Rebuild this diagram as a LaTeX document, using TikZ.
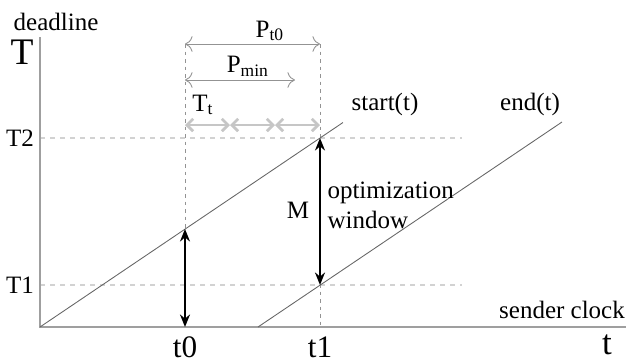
\documentclass[tikz,border=0pt]{standalone}
\usepackage{fontspec}
\setmainfont{Liberation Serif}
\usetikzlibrary{arrows.meta}

\begin{document}
\begin{tikzpicture}[
x=0.4pt, y=-0.4pt,
axis/.style={gray!75, line width=0.6pt},
guide/.style={gray!35, line width=0.8pt, dash pattern=on 2pt off 2pt},
vguide/.style={gray!85, line width=0.3pt, dash pattern=on 1.5pt off 1.5pt},
clockline/.style={gray!80!black, line width=0.35pt},
span/.style={gray!85, line width=0.35pt, {To[length=3pt]}-{To[length=3pt]}},
slot/.style={gray!45, line width=1.1pt, {Straight Barb[length=2.5pt,width=5pt]}-{Straight Barb[length=2.5pt,width=5pt]}},
gap/.style={black, line width=0.8pt, {Stealth[length=5pt,width=4pt]}-{Stealth[length=5pt,width=4pt]}},
lbl/.style={inner sep=0pt, font=\fontsize{10}{12}\selectfont}
]
\useasboundingbox (0,0) rectangle (628,362);

% ---- 关键坐标 ----
\coordinate (O)     at (40,327);
\coordinate (Ytop)  at (40,37);
\coordinate (Xend)  at (626,327);
\coordinate (T2l)   at (40,138);
\coordinate (T2r)   at (462,138);
\coordinate (T1l)   at (40,285);
\coordinate (T1r)   at (462,285);
\coordinate (t0top) at (185,44);
\coordinate (t0bot) at (185,327);
\coordinate (t1top) at (320,44);
\coordinate (t1bot) at (320,327);
\coordinate (s0)    at (185,229);
\coordinate (s1)    at (320,138);
\coordinate (sEnd)  at (343,122.5);
\coordinate (eBeg)  at (258,327);
\coordinate (e1)    at (320,285);
\coordinate (eEnd)  at (562,122);
\coordinate (pmin)  at (295,80);
\coordinate (ptop)  at (320,44);
\coordinate (pbeg)  at (185,44);
\coordinate (mbeg)  at (185,80);
\foreach \i in {0,...,3}
    \coordinate (k\i) at ({185+45*\i},125);

% ---- 虚线 ----
\draw[guide] (T2l) -- (T2r);
\draw[guide] (T1l) -- (T1r);
\draw[vguide] (t0top) -- (t0bot);
\draw[vguide] (t1top) -- (t1bot);

% ---- 坐标轴 ----
\draw[axis] (Ytop) -- (O) -- (Xend);

% ---- start(t) 与 end(t) ----
\draw[clockline] (O) -- (sEnd);
\draw[clockline] (eBeg) -- (eEnd);

% ---- 周期 ----
\draw[span] (pbeg) -- (ptop);
\draw[span] (mbeg) -- (pmin);
\foreach \i/\j in {0/1, 1/2, 2/3}
    \draw[slot] (k\i) -- (k\j);

% ---- 双向箭头 ----
\draw[gap] (s0) -- (t0bot);
\draw[gap] (s1) -- (e1);

% ---- 标注 ----
\node[lbl] (deadline) at (56,22) {deadline};
\node[lbl, font=\fontsize{15}{17}\selectfont] (Tlab) at (22,52) {T};
\node[lbl] (T2lab) at (20,138) {T2};
\node[lbl] (T1lab) at (20,285) {T1};
\node[lbl, font=\fontsize{12.5}{15}\selectfont] (t0lab) at (185,347) {t0};
\node[lbl, font=\fontsize{12.5}{15}\selectfont] (t1lab) at (320,347) {t1};
\node[lbl, font=\fontsize{14}{16}\selectfont] (tlab) at (607,345) {t};
\node[lbl] (sender) at (562,310) {sender clock};
\node[lbl] (start) at (385,104) {start(t)};
\node[lbl] (end) at (530,104) {end(t)};
\node[lbl] (Mlab) at (298,210) {M};
\node[lbl, anchor=west, align=left] (window) at (327,205) {optimization\\window};
\node[lbl] (Pt0) at (270,31) {P\textsubscript{t0}};
\node[lbl] (Pmin) at (248,66) {P\textsubscript{min}};
\node[lbl] (Tt) at (203,105) {T\textsubscript{t}};
\end{tikzpicture}
\end{document}
